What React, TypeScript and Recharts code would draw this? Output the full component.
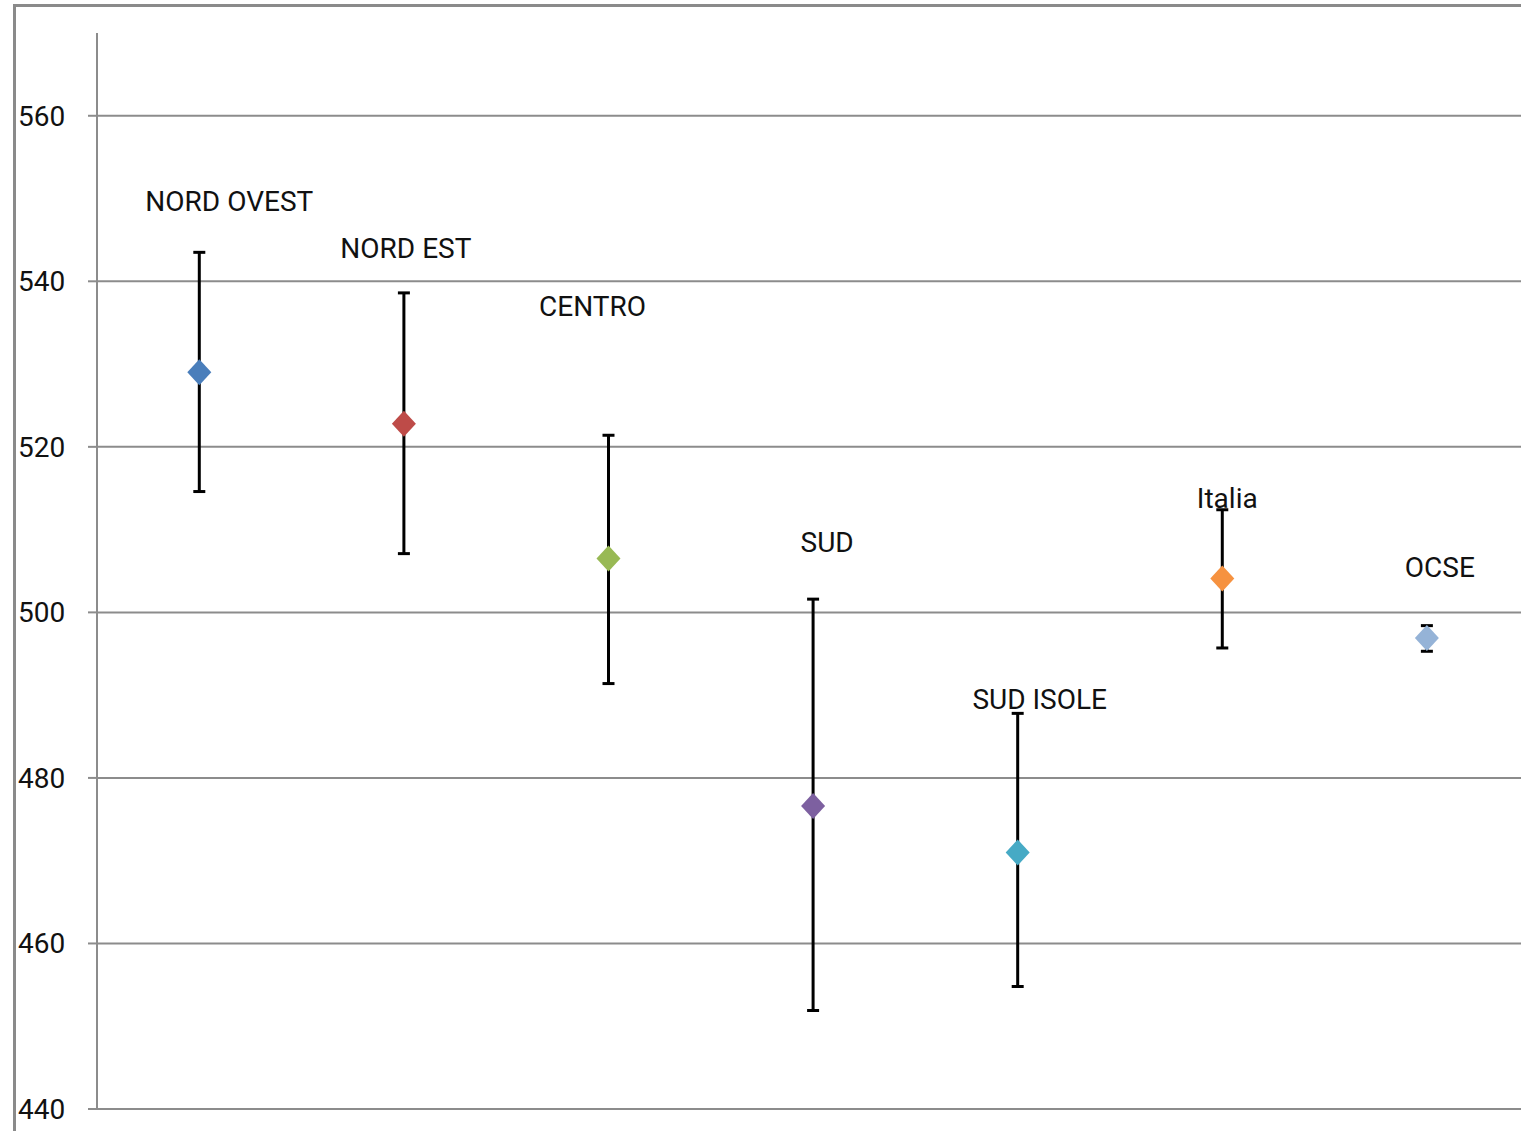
import { ScatterChart, Scatter, XAxis, YAxis, CartesianGrid, ErrorBar } from 'recharts';

// regional scores with confidence intervals
const REGIONS = ['NORD OVEST', 'NORD EST', 'CENTRO', 'SUD', 'SUD ISOLE', 'Italia', 'OCSE'];
const MEANS = [529, 522.8, 506.5, 476.6, 471, 504.1, 496.9];
const UPPER = [543.5, 538.6, 521.4, 501.6, 487.8, 512.4, 498.4];
const LOWER = [514.6, 507.1, 491.4, 451.9, 454.8, 495.7, 495.3];
const Y_TICKS = [440, 460, 480, 500, 520, 540, 560];

const COLORS = ['#4A7EBB', '#BE4B48', '#98B954', '#7D60A0', '#46AAC5', '#F69240', '#95B3D7'];
// label placement relative to the marker (px), as in the original sheet
const LABEL_OFFSETS = [
    [30, -171],
    [2, -176],
    [-16, -253],
    [14, -264],
    [22, -153],
    [5, -80],
    [13, -71],
];

const GRID = '#8c8c8c';
const FONT = 'Roboto, "DejaVu Sans", sans-serif';

const data = REGIONS.map((name, i) => ({
    x: i + 0.5,
    y: MEANS[i],
    err: [MEANS[i] - LOWER[i], UPPER[i] - MEANS[i]],
    name,
    color: COLORS[i],
}));

function Marker(props: any) {
    const { cx, cy, payload } = props;
    if (cx == null || cy == null) return null;
    const i = REGIONS.indexOf(payload.name);
    const [dx, dy] = LABEL_OFFSETS[i];
    return (
        <g>
            <polygon
                points={`${cx},${cy - 13} ${cx + 12},${cy} ${cx},${cy + 13} ${cx - 12},${cy}`}
                fill={payload.color}
            />
            <text
                x={cx + dx}
                y={cy + dy}
                dy="0.355em"
                textAnchor="middle"
                fontFamily={FONT}
                fontSize={28}
                fill="#111"
            >
                {payload.name}
            </text>
        </g>
    );
}

function YTick(props: any) {
    const { y, payload } = props;
    return (
        <text x={18} y={y} dy="0.355em" textAnchor="start" fontFamily={FONT} fontSize={28} fill="#111">
            {payload.value}
        </text>
    );
}

export default function App() {
    return (
        <div style={{ position: 'absolute', left: 0, top: 0, width: 1521, height: 1131, background: '#fff', overflow: 'hidden' }}>
            <div
                style={{
                    position: 'absolute',
                    left: 13,
                    top: 4,
                    right: -10,
                    bottom: -10,
                    borderTop: '3px solid #8a8a8a',
                    borderLeft: '3px solid #8a8a8a',
                }}
            />
            <div style={{ position: 'absolute', left: 0, top: 0 }}>
                <ScatterChart width={1521} height={1131} margin={{ top: 33, right: 0, bottom: 22, left: 0 }}>
                    <CartesianGrid vertical={false} horizontalValues={Y_TICKS} stroke={GRID} strokeWidth={2} />
                    <XAxis type="number" dataKey="x" domain={[0, 6.96]} hide />
                    <YAxis
                        type="number"
                        dataKey="y"
                        domain={[440, 570]}
                        ticks={Y_TICKS}
                        width={97}
                        tickSize={9}
                        axisLine={{ stroke: GRID, strokeWidth: 2 }}
                        tickLine={{ stroke: GRID, strokeWidth: 2 }}
                        tick={<YTick />}
                    />
                    <Scatter data={data} shape={<Marker />} isAnimationActive={false}>
                        <ErrorBar dataKey="err" direction="y" stroke="#000" strokeWidth={3} width={6} />
                    </Scatter>
                </ScatterChart>
            </div>
        </div>
    );
}
